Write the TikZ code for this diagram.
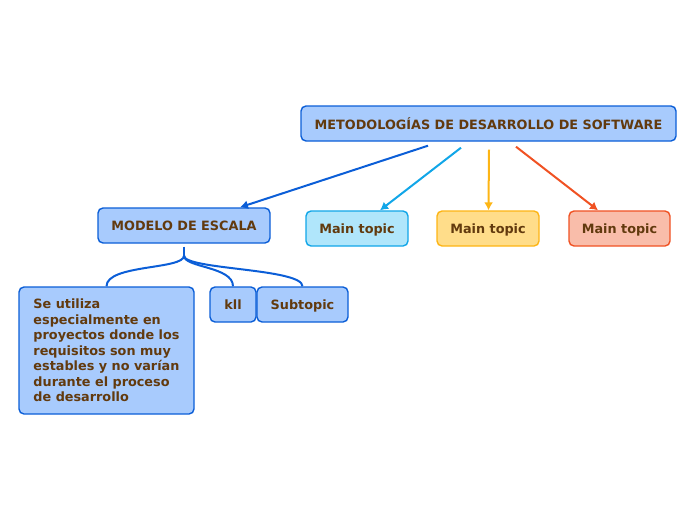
\documentclass[tikz,border=0pt]{standalone}
\usepackage{fontspec}
\setmainfont{DejaVu Sans}
\usepackage{tikz}
\usetikzlibrary{arrows.meta}
\usetikzlibrary{calc}

\definecolor{txtbrown}{HTML}{623A0E}
\definecolor{bluefill}{HTML}{A8CBFD}
\definecolor{blueline}{HTML}{0B5ED7}
\definecolor{cyanfill}{HTML}{B0E6FB}
\definecolor{cyanline}{HTML}{11A6E8}
\definecolor{yellowfill}{HTML}{FFDD8A}
\definecolor{yellowline}{HTML}{FDB515}
\definecolor{orangefill}{HTML}{F9BDAA}
\definecolor{orangeline}{HTML}{F05223}

\tikzset{
  topic/.style={draw, rounded corners=5pt, line width=1.4pt, text=txtbrown,
    font=\bfseries\fontsize{12.8}{15.5}\selectfont, inner sep=0pt, anchor=center,
    text depth=0pt},
  bluetopic/.style={topic, draw=blueline, fill=bluefill},
  link/.style={->, >={Latex[length=8pt,width=9pt]}, line width=2pt},
  branch/.style={line width=2pt, draw=blueline}
}

\begin{document}
\begin{tikzpicture}[x=1pt, y=-1pt]

  \useasboundingbox (0,0) rectangle (696,520);

  % Central topic
  \node[bluetopic, minimum width=375pt, minimum height=35pt] (root) at (488.5,123.5)
    {METODOLOGÍAS DE DESARROLLO DE SOFTWARE};

  % Main topics
  \node[bluetopic, minimum width=172pt, minimum height=35pt] (escala) at (184,225.5)
    {MODELO DE ESCALA};
  \node[topic, draw=cyanline, fill=cyanfill, minimum width=102pt, minimum height=35pt] (mainA) at (357,228.5)
    {Main topic};
  \node[topic, draw=yellowline, fill=yellowfill, minimum width=102pt, minimum height=35pt] (mainB) at (488,228.5)
    {Main topic};
  \node[topic, draw=orangeline, fill=orangefill, minimum width=101pt, minimum height=35pt] (mainC) at (619.5,228.5)
    {Main topic};

  % Subtopics
  \node[bluetopic, minimum width=175pt, minimum height=127pt, align=left] (desc) at (106.5,350.5)
    {Se utiliza\\especialmente en\\proyectos donde los\\requisitos son muy\\estables y no varían\\durante el proceso\\de desarrollo};
  \node[bluetopic, minimum width=46pt, minimum height=35pt] (kll) at (233,304.5) {kll};
  \node[bluetopic, minimum width=91pt, minimum height=35pt] (sub) at (302.5,304.5) {Subtopic};

  % Links from the central topic
  \draw[link, blueline] ($(root.south) + (-60.5,4)$) -- ($(escala.north) + (56,0)$);
  \draw[link, cyanline] ($(root.south) + (-27.5,6)$) -- ($(mainA.north) + (23,0)$);
  \draw[link, yellowline] ($(root.south) + (0.5,8)$) -- ($(mainB.north) + (0.5,0)$);
  \draw[link, orangeline] ($(root.south) + (27.5,5)$) -- ($(mainC.north) + (-21.5,0)$);

  % Branches below MODELO DE ESCALA
  \coordinate (stem) at ($(escala.south) + (0,12)$);
  \draw[branch] ($(escala.south) + (0,3)$) -- (stem);
  \draw[branch] (stem) .. controls ($(stem) + (0,14)$) and ($(desc.north) + (0,-22)$) .. (desc.north);
  \draw[branch] (stem) .. controls ($(stem) + (0,12)$) and ($(kll.north) + (0,-20)$) .. (kll.north);
  \draw[branch] (stem) .. controls ($(stem) + (0,14)$) and ($(sub.north) + (0,-18)$) .. (sub.north);

\end{tikzpicture}
\end{document}
